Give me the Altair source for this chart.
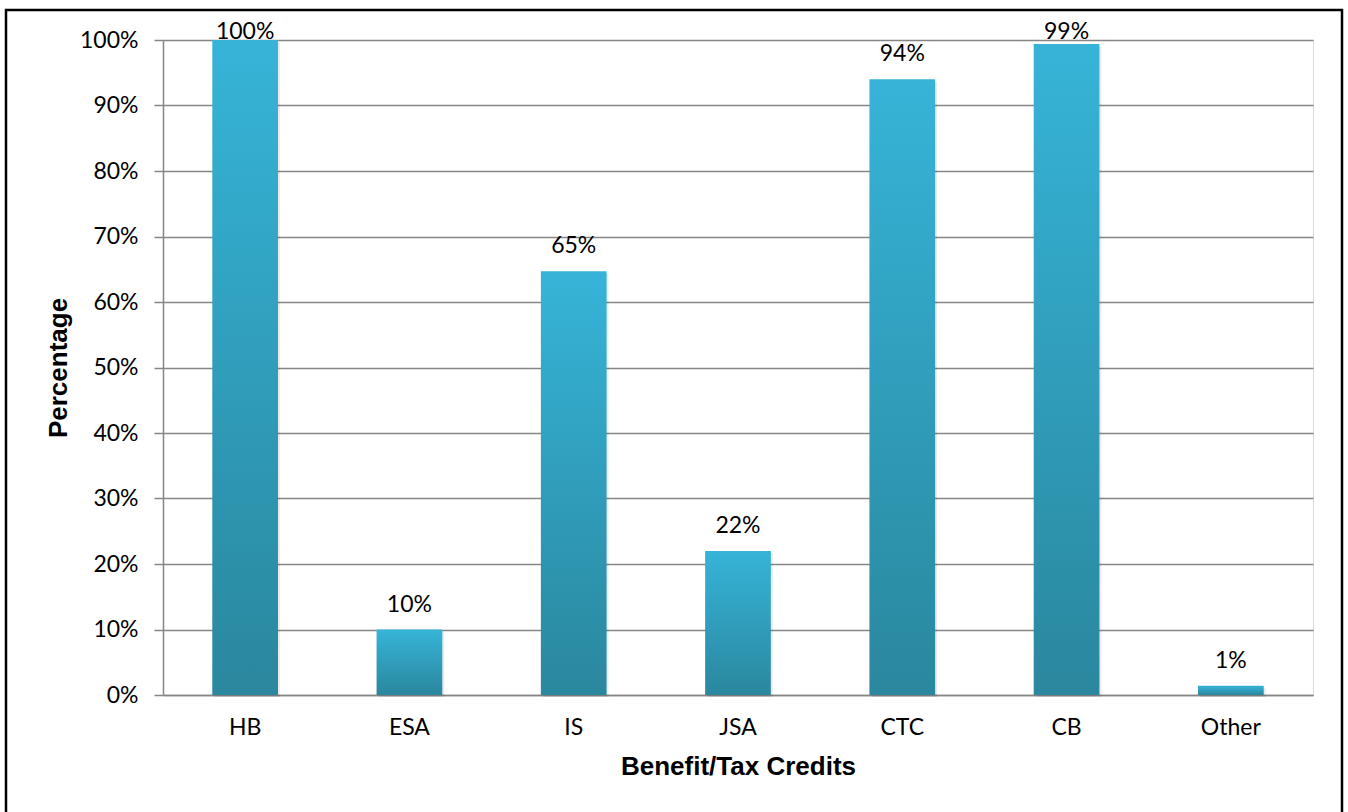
import altair as alt
import pandas as pd

categories = ["HB", "ESA", "IS", "JSA", "CTC", "CB", "Other"]
values = [100.0, 10.0, 64.7, 22.0, 94.0, 99.4, 1.4]
labels = ["100%", "10%", "65%", "22%", "94%", "99%", "1%"]
y_ticks = [0, 10, 20, 30, 40, 50, 60, 70, 80, 90, 100]

df = pd.DataFrame({"cat": categories, "value": values, "label": labels})

W, H = 1150, 655
FONT = "Lato"
FS = 23

x_enc = alt.X("cat:N", sort=categories, title="Benefit/Tax Credits",
              scale=alt.Scale(paddingInner=0.6, paddingOuter=0.3),
              axis=alt.Axis(labelAngle=0, labelFont=FONT, labelFontSize=FS, labelColor="#000000",
                            labelPadding=21, ticks=False, domain=True, domainColor="#868686",
                            domainWidth=1.5, grid=False,
                            titleFont="Liberation Sans", titleFontSize=26, titleFontWeight="bold",
                            titleColor="#000000", titlePadding=14))
y_scale = alt.Scale(domain=[0, 100], nice=False)

gradient = alt.Gradient(gradient="linear", x1=0, y1=0, x2=0, y2=1,
                        stops=[alt.GradientStop(color="#36B4D8", offset=0),
                               alt.GradientStop(color="#2A879E", offset=1)])

shadow = alt.Chart(df).mark_bar(color="#000000", opacity=0.08, xOffset=2, yOffset=2).encode(
    x=x_enc, y=alt.Y("value:Q", scale=y_scale))

bars = alt.Chart(df).mark_bar(fill=gradient).encode(
    x=x_enc,
    y=alt.Y("value:Q", scale=y_scale, title="Percentage",
            axis=alt.Axis(values=y_ticks, labelExpr="datum.value + '%'", labelFont=FONT,
                          labelFontSize=FS, labelColor="#000000", labelPadding=16,
                          tickSize=9, tickColor="#868686", tickWidth=1.5,
                          domainColor="#868686", domainWidth=1.5,
                          grid=True, gridColor="#868686", gridWidth=1.5,
                          titleFont="Liberation Sans", titleFontSize=26, titleFontWeight="bold",
                          titleColor="#000000", titlePadding=8)),
)

text = alt.Chart(df).transform_calculate(
    ylab="min(datum.value, 97.4)"
).mark_text(font=FONT, fontSize=FS, color="#000000", baseline="alphabetic", dy=-18).encode(
    x=alt.X("cat:N", sort=categories),
    y=alt.Y("ylab:Q", scale=y_scale),
    text="label:N",
)

border = alt.Chart(pd.DataFrame({"a": [0]})).mark_rect(
    fill=None, stroke="#000000", strokeWidth=2.5, clip=False
).encode(x=alt.value(-157), x2=alt.value(W + 29), y=alt.value(-30), y2=alt.value(H + 120))

chart = alt.layer(shadow, bars, text, border).properties(
    width=W, height=H,
    autosize=alt.AutoSizeParams(type="none"),
    padding={"left": 163, "top": 40, "right": 35, "bottom": 117},
).configure_view(stroke=None).configure(background="#ffffff")

chart.save("out.html", embed_options={"renderer": "svg", "actions": False})
